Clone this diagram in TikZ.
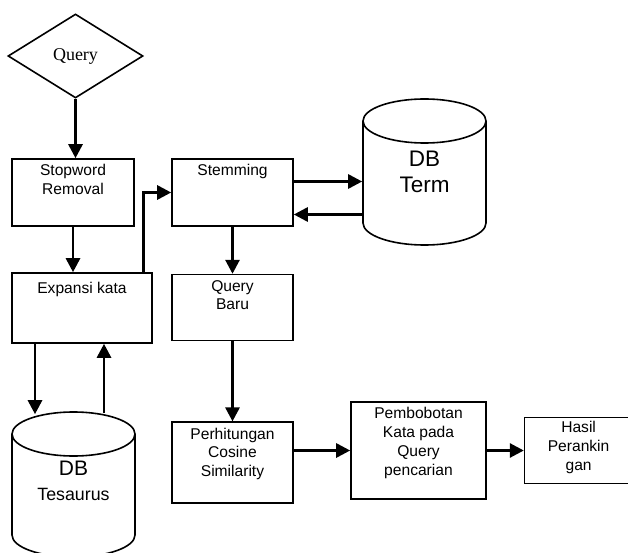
\documentclass[tikz,border=0pt]{standalone}
\usepackage{fontspec}
\setmainfont{Liberation Sans}
\newfontfamily\qserif{Liberation Serif}
\usepackage{tikz}
\usetikzlibrary{arrows.meta,shapes.geometric,positioning}

\begin{document}
\begin{tikzpicture}[x=1pt,y=-1pt,>={Triangle[length=14pt,width=14pt]},line width=2.8pt,
    base node/.style={rectangle,draw,line width=1.6pt},
    top text/.style={anchor=north,align=center,inner sep=0pt,yshift=-5pt,font=\fontsize{15.6}{18.8}\selectfont},
    db node/.style={cylinder,shape border rotate=90,aspect=1.1,inner sep=20pt,draw,line width=1.6pt,anchor=shape center},
    db text/.style={align=center,inner sep=0pt}]

	\path[use as bounding box] (0,0) rectangle (628,553);
	\clip (0,0) rectangle (628,553);

	\node[diamond,draw,line width=1.6pt,minimum width=135pt,minimum height=84pt,aspect=1.6,inner sep=0pt,font=\qserif\fontsize{18}{20}\selectfont] (q) at (75.5,56) {Query};
	\node[base node,minimum width=122pt,minimum height=67pt,label={[top text]north:Stopword\\Removal}] (stop) at (73,192.5) {};
	\node[base node,minimum width=121pt,minimum height=67pt,label={[top text]north:Stemming}] (stem) at (232.5,192.5) {};
	\node[base node,minimum width=140pt,minimum height=70pt,label={[top text,yshift=-4pt]north:Expansi kata}] (exp) at (82,308) {};
	\node[base node,minimum width=121pt,minimum height=66pt,label={[top text]north:Query\\Baru}] (qb) [below=47pt of stem] {};
	\node[base node,minimum width=121pt,minimum height=81pt,label={[top text]north:Perhitungan\\Cosine\\Similarity}] (perh) [below=80pt of qb] {};
	\node[base node,minimum width=135pt,minimum height=97pt,label={[top text]north:Pembobotan\\Kata pada\\Query\\pencarian}] (pemb) at (418.5,450.5) {};
	\node[base node,minimum width=108pt,minimum height=66pt,label={[top text,yshift=1.5pt]north:Hasil\\Perankin\\gan}] (hasil) [right=37pt of pemb] {};

	\node[db node,minimum width=123pt,minimum height=146pt] (term) at (424.5,172) {};
	\node[db text,font=\fontsize{22.5}{26}\selectfont] (termtext) at (term.shape center) {DB\\Term};
	\node[db node,minimum width=123pt,minimum height=145pt] (tes) at (73.5,484.5) {};
	\node[db text,font=\fontsize{21}{25}\selectfont,yshift=4pt] (testext) at (tes.shape center) {DB\\\fontsize{17.8}{21}\selectfont Tesaurus};

	\draw[->] (q.south) -- (q.south |- stop.north);
	\draw[->] (stop.south) -- (stop.south |- exp.north);
	\draw[->] ([xshift=-9pt]exp.north east) |- (stem.west);
	\draw[->] ([yshift=11pt]stem.east) -- ([yshift=11pt]stem.east -| term.west);
	\draw[->] ([yshift=-22pt]stem.east -| term.west) -- ([yshift=-22pt]stem.east);
	\draw[->] ([xshift=-47pt]exp.south) -- ([xshift=-47pt,yshift=-3pt]exp.south |- tes.north);
	\draw[->] ([xshift=22pt,yshift=-2pt]exp.south |- tes.north) -- ([xshift=22pt]exp.south);
	\draw[->] (perh.east |- pemb.west) -- (pemb.west);

	\path[->]
	(stem) edge (qb)
	(qb) edge (perh)
	(pemb) edge (hasil);

\end{tikzpicture}
\end{document}
